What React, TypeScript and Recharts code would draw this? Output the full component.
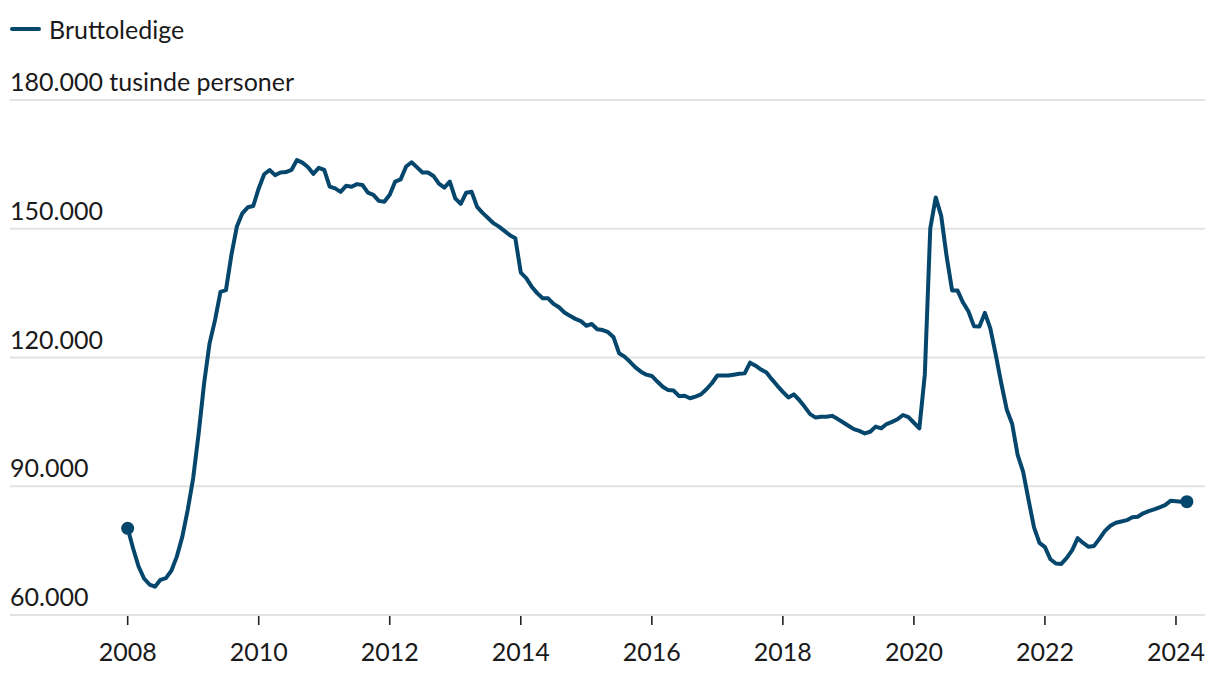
import React from "react";
import { LineChart, Line, XAxis, YAxis, CartesianGrid, Legend } from "recharts";

// Bruttoledige, monthly, Jan 2008 – Mar 2024 (persons)
const v2008 = [80200, 75500, 71300, 68500, 67100, 66600, 68200, 68600, 70300, 73600, 78200, 84500];
const v2009 = [91900, 102300, 114000, 123300, 128700, 135300, 135700, 143900, 150500, 153600, 155000, 155300];
const v2010 = [159400, 162700, 163700, 162500, 163100, 163200, 163700, 166000, 165400, 164400, 162800, 164200];
const v2011 = [163700, 159800, 159400, 158600, 160000, 159800, 160400, 160200, 158400, 157900, 156500, 156300];
const v2012 = [157900, 161000, 161500, 164500, 165500, 164300, 163100, 163100, 162300, 160500, 159600, 161000];
const v2013 = [157100, 155800, 158400, 158600, 155100, 153700, 152500, 151300, 150500, 149500, 148500, 147800];
const v2014 = [139800, 138500, 136500, 135000, 133800, 133800, 132500, 131700, 130500, 129700, 129000, 128500];
const v2015 = [127400, 127800, 126600, 126400, 125900, 124700, 121000, 120200, 119000, 117700, 116700, 116000];
const v2016 = [115700, 114400, 113200, 112400, 112300, 111000, 111100, 110500, 110900, 111400, 112600, 114000];
const v2017 = [115800, 115800, 115800, 116000, 116200, 116300, 118800, 118100, 117200, 116500, 114900, 113400];
const v2018 = [112000, 110700, 111400, 110100, 108500, 106800, 106000, 106200, 106200, 106400, 105700, 104900];
const v2019 = [104100, 103300, 102900, 102300, 102700, 103900, 103500, 104500, 105000, 105600, 106600, 106100];
const v2020 = [104800, 103500, 116000, 150100, 157300, 153000, 143500, 135600, 135600, 132800, 130700, 127300];
const v2021 = [127200, 130400, 126800, 120600, 114000, 107900, 104500, 97300, 93400, 86800, 80400, 76800];
const v2022 = [75800, 73000, 72000, 71900, 73300, 75100, 77900, 76800, 75900, 76100, 77800, 79600];
const v2023 = [80800, 81500, 81800, 82100, 82800, 82900, 83700, 84200, 84600, 85100, 85600, 86600];
const v2024 = [86500, 86400, 86400];

const years = [2008, 2009, 2010, 2011, 2012, 2013, 2014, 2015, 2016, 2017, 2018, 2019, 2020, 2021, 2022, 2023, 2024];
const yearValues = [v2008, v2009, v2010, v2011, v2012, v2013, v2014, v2015, v2016, v2017, v2018, v2019, v2020, v2021, v2022, v2023, v2024];

const xTicks = [2008, 2010, 2012, 2014, 2016, 2018, 2020, 2022, 2024];
const yTicks = [60000, 90000, 120000, 150000, 180000];

const seriesName = "Bruttoledige";
const unitLabel = "tusinde personer";

const COLOR = "#05476c";
const TEXT = "#1a1a1a";
const FONT = "Lato, 'Open Sans', sans-serif";

const data = years.flatMap((yr, i) =>
  yearValues[i].map((v, m) => ({ t: yr + m / 12, value: v }))
);
const lastIndex = data.length - 1;

const fmt = (v: number) => String(v).replace(/\B(?=(\d{3})+(?!\d))/g, ".");

/* eslint-disable @typescript-eslint/no-explicit-any */
function YTick({ y, payload }: any) {
  const label = payload.value === 180000 ? `${fmt(payload.value)} ${unitLabel}` : fmt(payload.value);
  return (
    <text x={10} y={y - 9} fill={TEXT} fontSize={25} fontFamily={FONT}>
      {label}
    </text>
  );
}

function XTick({ x, y, payload }: any) {
  return (
    <g>
      <line x1={x} x2={x} y1={y - 7} y2={y + 2} stroke="#222" strokeWidth={1.6} />
      <text x={x} y={y + 38} textAnchor="middle" fill={TEXT} fontSize={25} fontFamily={FONT}>
        {payload.value}
      </text>
    </g>
  );
}

function EndDot({ cx, cy, index }: any) {
  if (index !== 0 && index !== lastIndex) return <g key={index} />;
  return <circle key={index} cx={cx} cy={cy} r={6.5} fill={COLOR} />;
}

function LegendBox() {
  return (
    <div style={{ display: "flex", alignItems: "center", fontFamily: FONT, fontSize: 25, color: TEXT, lineHeight: "30px" }}>
      <span style={{ display: "inline-block", width: 31, height: 4, background: COLOR, borderRadius: 2, marginRight: 8 }} />
      {seriesName}
    </div>
  );
}

export default function App() {
  return (
    <div style={{ position: "absolute", left: 0, top: 0, width: 1220, height: 674, background: "#fff" }}>
      <LineChart width={1220} height={674} data={data} margin={{ top: 100, right: 15, left: 10, bottom: 0 }}>
        <CartesianGrid vertical={false} stroke="#e2e2e2" strokeWidth={2} />
        <XAxis
          dataKey="t"
          type="number"
          domain={[2006.204, 2024.443]}
          ticks={xTicks}
          axisLine={false}
          tickLine={false}
          tick={<XTick />}
          height={59}
          interval={0}
        />
        <YAxis
          type="number"
          domain={[60000, 180000]}
          ticks={yTicks}
          axisLine={false}
          tickLine={false}
          tick={<YTick />}
          mirror
          width={60}
          interval={0}
        />
        <Legend
          verticalAlign="middle"
          align="center"
          content={<LegendBox />}
          wrapperStyle={{ top: 14, left: 10, width: "auto" }}
        />
        <Line
          type="linear"
          dataKey="value"
          name={seriesName}
          stroke={COLOR}
          strokeWidth={4}
          strokeLinejoin="round"
          dot={<EndDot />}
          activeDot={false}
          isAnimationActive={false}
        />
      </LineChart>
    </div>
  );
}
